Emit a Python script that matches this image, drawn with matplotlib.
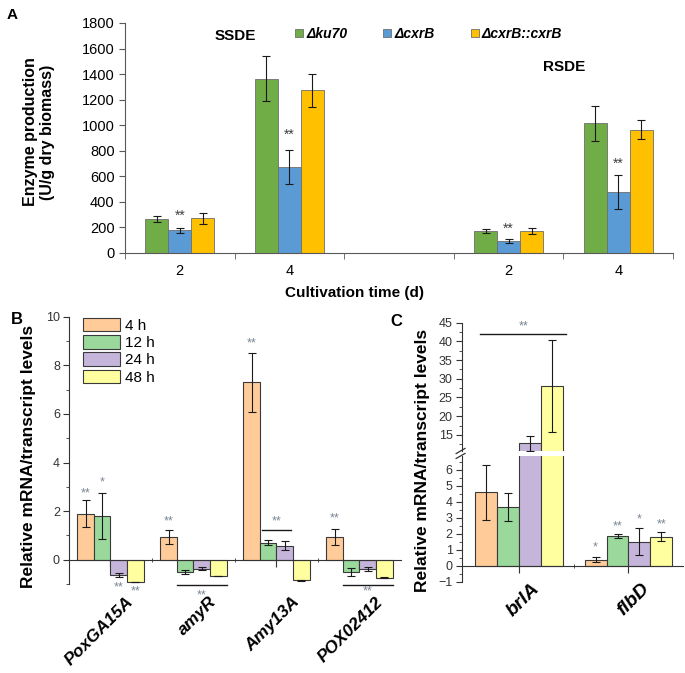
import numpy as np
import matplotlib
matplotlib.use('Agg')
import matplotlib.pyplot as plt
from matplotlib.patches import Patch
from matplotlib.lines import Line2D
from matplotlib.ticker import MultipleLocator, FixedLocator

plt.rcParams['font.family'] = ['Liberation Sans', 'DejaVu Sans']

# ---------------- panel A data (enzyme production)
a_days = ['2', '4', '2', '4']
a_x = [0, 1, 3, 4]          # slot 2 is the empty gap between SSDE and RSDE
a_strains = ['Δku70', 'ΔcxrB', 'ΔcxrB::cxrB']
a_colors = ['#70AD47', '#5B9BD5', '#FFC000']
a_ku70 = [268, 1365, 175, 1015]
a_ku70_err = [22, 175, 15, 137]
a_cxrB = [178, 670, 92, 475]
a_cxrB_err = [18, 132, 16, 132]
a_comp = [272, 1272, 172, 965]
a_comp_err = [43, 127, 25, 75]
a_stars_y = [290, 923, 188, 697]

# ---------------- panel B data (amylase genes)
b_genes = ['PoxGA15A', 'amyR', 'Amy13A', 'POX02412']
b_times = ['4 h', '12 h', '24 h', '48 h']
b_colors = ['#FFCC99', '#9AD89B', '#C6B5DB', '#FFFF9F']
b_4h = [1.9, 0.93, 7.3, 0.95]
b_4h_err = [0.55, 0.3, 1.22, 0.33]
b_12h = [1.8, -0.5, 0.7, -0.52]
b_12h_err = [0.93, 0.07, 0.1, 0.16]
b_24h = [-0.63, -0.37, 0.57, -0.38]
b_24h_err = [0.07, 0.06, 0.19, 0.08]
b_48h = [-0.93, -0.67, -0.85, -0.74]
b_48h_err = [0.0, 0.02, 0.02, 0.02]

# ---------------- panel C data (conidiation genes)
c_genes = ['brlA', 'flbD']
c_4h = [4.57, 0.38]
c_4h_err = [1.7, 0.15]
c_12h = [3.66, 1.84]
c_12h_err = [0.87, 0.12]
c_24h = [12.7, 1.5]
c_24h_err = [2.0, 0.86]
c_48h = [28.0, 1.81]
c_48h_err = [12.25, 0.3]

star_col = '#7a8596'
err_kw = dict(ecolor='#1a1a1a', elinewidth=0.8, capsize=3, capthick=0.8)

fig = plt.figure(figsize=(6.85, 6.73), dpi=100)

# ================= A =================
axA = fig.add_axes([0.1825, 0.6241, 0.8, 0.3418])
w = 0.21
for k, (vals, errs) in enumerate([(a_ku70, a_ku70_err), (a_cxrB, a_cxrB_err), (a_comp, a_comp_err)]):
    xs = [x + (k - 1) * w for x in a_x]
    axA.bar(xs, vals, w, color=a_colors[k], edgecolor='#6e6e6e', linewidth=0.6,
            label=a_strains[k], zorder=2)
    axA.errorbar(xs, vals, yerr=errs, fmt='none', zorder=3, **err_kw)
for x, y in zip(a_x, a_stars_y):
    axA.text(x, y, '**', ha='center', va='center', fontsize=10, color='#404040')
axA.set_xlim(-0.5, 4.5)
axA.set_ylim(0, 1800)
axA.yaxis.set_major_locator(MultipleLocator(200))
axA.set_xticks(a_x)
axA.set_xticklabels(a_days, fontsize=10.5)
axA.xaxis.set_minor_locator(FixedLocator(np.arange(-0.5, 5, 1)))
axA.tick_params(axis='x', which='major', length=0, pad=8)
axA.tick_params(axis='x', which='minor', length=4, direction='out', color='#595959')
axA.tick_params(axis='y', length=4, direction='out', color='#595959', labelsize=10.5)
for s in ['top', 'right']:
    axA.spines[s].set_visible(False)
for s in ['left', 'bottom']:
    axA.spines[s].set_color('#595959')
axA.text(0.51, 1700, 'SSDE', ha='center', va='center', fontsize=11, fontweight='bold')
axA.text(3.51, 1456, 'RSDE', ha='center', va='center', fontsize=11, fontweight='bold')
a_handles = [Line2D([], [], marker='s', ls='none', markersize=6, markerfacecolor=c,
                    markeredgecolor='#6e6e6e', markeredgewidth=0.6) for c in a_colors]
legA = axA.legend(a_handles, a_strains, ncol=3, loc='center left', bbox_to_anchor=(0.31, 0.952),
                  frameon=False, handlelength=0.6, handletextpad=0.2, columnspacing=2.6,
                  borderaxespad=0, borderpad=0,
                  prop=dict(size=10, weight='bold', style='italic'))
fig.text(0.057, 0.804, 'Enzyme production\n(U/g dry biomass)', rotation=90, ha='center',
         va='center', fontsize=11.5, fontweight='bold', multialignment='center')
fig.text(0.518, 0.5646, 'Cultivation time (d)', ha='center', va='center', fontsize=11,
         fontweight='bold')
fig.text(0.01, 0.988, 'A', ha='left', va='top', fontsize=11, fontweight='bold')


def grouped(ax, series, errs, ng):
    bw = 0.2
    for k in range(4):
        xs = [g + (k - 1.5) * bw for g in range(ng)]
        ax.bar(xs, series[k], bw, color=b_colors[k], edgecolor='#3a3a3a', linewidth=0.8,
               label=b_times[k], zorder=2)
        ax.errorbar(xs, series[k], yerr=errs[k], fmt='none', zorder=3, **err_kw)


def style_axis(ax):
    for s in ['top', 'right']:
        ax.spines[s].set_visible(False)
    ax.spines['left'].set_color('#333333')
    ax.tick_params(axis='y', which='major', length=4.5, direction='out', labelsize=9,
                   color='#333333', labelcolor='#333333', pad=2)
    ax.tick_params(axis='y', which='minor', length=2.5, direction='out', color='#333333')
    ax.set_axisbelow(True)


# ================= B =================
axB = fig.add_axes([0.1007, 0.1322, 0.4847, 0.3972])
grouped(axB, [b_4h, b_12h, b_24h, b_48h], [b_4h_err, b_12h_err, b_24h_err, b_48h_err], 4)
axB.set_xlim(-0.5, 3.5)
axB.set_ylim(-1, 10)
style_axis(axB)
axB.spines['bottom'].set_position(('data', 0))
axB.spines['bottom'].set_color('#333333')
axB.yaxis.set_major_locator(MultipleLocator(2))
axB.yaxis.set_minor_locator(MultipleLocator(1))
axB.set_xticks(range(4))
axB.set_xticklabels([])
axB.xaxis.set_minor_locator(FixedLocator([0.5, 1.5, 2.5]))
axB.tick_params(axis='x', which='major', length=5, direction='out', color='#333333')
axB.tick_params(axis='x', which='minor', length=3, direction='inout', color='#333333')
for i, g in enumerate(b_genes):
    axB.annotate(g, xy=(i, -1), xycoords='data', xytext=(15, -11), textcoords='offset points',
                 rotation=45, rotation_mode='anchor', ha='right', va='center', fontsize=12.5,
                 fontweight='bold', fontstyle='italic')
b_stars = [(-0.3, 2.73, '**'), (-0.1, 3.16, '*'), (0.1, -1.14, '**'), (0.3, -1.29, '**'),
           (0.7, 1.56, '**'), (1.1, -1.45, '**'), (1.7, 8.88, '**'), (2.0, 1.56, '**'),
           (2.7, 1.70, '**'), (3.1, -1.32, '**')]
for x, y, t in b_stars:
    axB.text(x, y, t, ha='center', va='center', fontsize=9, color=star_col, clip_on=False)
for x0, x1, y in [(0.8, 1.4, -1.04), (1.82, 2.17, 1.22), (2.8, 3.4, -1.04)]:
    axB.plot([x0, x1], [y, y], color='#1a1a1a', lw=1.0, clip_on=False, zorder=4)
b_handles = [Patch(facecolor=c, edgecolor='#3a3a3a', linewidth=0.8) for c in b_colors]
axB.legend(b_handles, b_times, loc='upper left', bbox_to_anchor=(0.042, 0.997), frameon=False,
           fontsize=11, handlelength=2.4, handleheight=1.0, labelspacing=0.15,
           handletextpad=0.35, borderaxespad=0, borderpad=0)
fig.text(0.0416, 0.3224, 'Relative mRNA/transcript levels', rotation=90, ha='center',
         va='center', fontsize=12.5, fontweight='bold')
fig.text(0.024, 0.525, 'B', ha='center', va='center', fontsize=12, fontweight='bold')

# ================= C (broken axis) =================
axCu = fig.add_axes([0.674, 0.3299, 0.3236, 0.1906])
axCl = fig.add_axes([0.674, 0.1357, 0.3236, 0.1868])
c_series = [c_4h, c_12h, c_24h, c_48h]
c_errs = [c_4h_err, c_12h_err, c_24h_err, c_48h_err]
for ax in (axCu, axCl):
    grouped(ax, c_series, c_errs, 2)
    ax.set_xlim(-0.52, 1.5)
    style_axis(ax)
axCu.set_ylim(10.7, 45)
axCu.spines['bottom'].set_visible(False)
axCu.yaxis.set_major_locator(FixedLocator([15, 20, 25, 30, 35, 40, 45]))
axCu.yaxis.set_minor_locator(MultipleLocator(2.5))
axCu.set_xticks([])
axCl.set_ylim(-1, 6.85)
axCl.spines['bottom'].set_position(('data', 0))
axCl.spines['bottom'].set_color('#333333')
axCl.yaxis.set_major_locator(MultipleLocator(1))
axCl.yaxis.set_minor_locator(MultipleLocator(0.5))
axCl.set_xticks([0, 1])
axCl.set_xticklabels([])
axCl.xaxis.set_minor_locator(FixedLocator([0.5]))
axCl.tick_params(axis='x', which='major', length=5, direction='out', color='#333333')
axCl.tick_params(axis='x', which='minor', length=3, direction='inout', color='#333333')
for i, g in enumerate(c_genes):
    axCl.annotate(g, xy=(i, -1), xycoords='data', xytext=(13, -3), textcoords='offset points',
                  rotation=45, rotation_mode='anchor', ha='right', va='center', fontsize=14,
                  fontweight='bold', fontstyle='italic')
axCu.plot([-0.35, 0.43], [41.9, 41.9], color='#1a1a1a', lw=1.0, zorder=4)
axCu.text(0.04, 44.0, '**', ha='center', va='center', fontsize=9, color=star_col, clip_on=False)
for x, y, t in [(0.7, 1.12, '*'), (0.9, 2.42, '**'), (1.1, 2.9, '*'), (1.3, 2.6, '**')]:
    axCl.text(x, y, t, ha='center', va='center', fontsize=9, color=star_col)
# break marks on the y axis
for ax, yy in [(axCl, 1.0), (axCu, 0.0)]:
    ax.plot([-0.025, 0.015], [yy - 0.02, yy + 0.02], transform=ax.transAxes, color='#333333',
            lw=0.9, clip_on=False)
fig.text(0.6175, 0.3165, 'Relative mRNA/transcript levels', rotation=90, ha='center',
         va='center', fontsize=12.5, fontweight='bold')
fig.text(0.578, 0.522, 'C', ha='center', va='center', fontsize=12, fontweight='bold')

fig.savefig('out.png', dpi=100)
